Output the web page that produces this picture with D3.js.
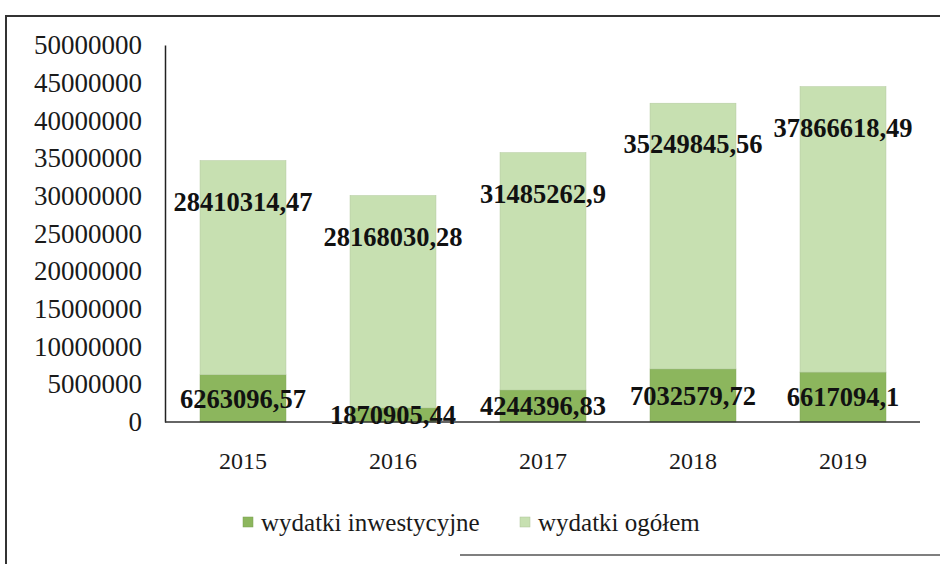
<!DOCTYPE html>
<html><head><meta charset="utf-8">
<script src="https://cdn.jsdelivr.net/npm/d3@7"></script>
<style>body{margin:0;background:#fff}svg{display:block}</style>
</head><body>
<svg id="c" width="940" height="564"></svg>
<script>
const years = ["2015","2016","2017","2018","2019"];
const inwestycyjne = [6263096.57, 1870905.44, 4244396.83, 7032579.72, 6617094.1];
const ogolem = [28410314.47, 28168030.28, 31485262.9, 35249845.56, 37866618.49];
const inwLabels = ["6263096,57","1870905,44","4244396,83","7032579,72","6617094,1"];
const ogLabels = ["28410314,47","28168030,28","31485262,9","35249845,56","37866618,49"];
const yTicks = [0,5000000,10000000,15000000,20000000,25000000,30000000,35000000,40000000,45000000,50000000];
const seriesNames = ["wydatki inwestycyjne","wydatki ogółem"];
const colors = ["#8cb65d","#c7e0b1"];

const svg = d3.select("#c");
const font = "'Liberation Serif','Times New Roman',serif";

// frame
svg.append("path").attr("d","M6,564 L6,16 L940,16").attr("fill","none").attr("stroke","#333").attr("stroke-width",2);
svg.append("path").attr("d","M460,555 L940,555").attr("fill","none").attr("stroke","#555").attr("stroke-width",1.5);

const x = d3.scaleBand().domain(years).range([168,918]).paddingInner(0.427).paddingOuter(0.2135);
const y = d3.scaleLinear().domain([0,50000000]).range([422,45]);

const data = years.map((yr,i)=>({year:yr, inw:inwestycyjne[i], og:ogolem[i], i}));
const stack = d3.stack().keys(["inw","og"])(data);

stack.forEach((layer,li)=>{
  svg.append("g").selectAll("rect").data(layer).join("rect")
    .attr("x",d=>x(d.data.year)).attr("width",x.bandwidth())
    .attr("y",d=>y(d[1])).attr("height",d=>y(d[0])-y(d[1]))
    .attr("fill",colors[li]).attr("stroke",d3.color(colors[li]).darker(0.3)).attr("stroke-width",0.5);
});

// axes
const yAxis = d3.axisLeft(y).tickValues(yTicks).tickSize(0).tickPadding(23).tickFormat(d=>String(d));
const gy = svg.append("g").attr("transform","translate(165,0)").call(yAxis);
gy.select(".domain").attr("stroke","#222").attr("stroke-width",1.5);
gy.selectAll("text").attr("font-family",font).attr("font-size",27).attr("fill","#1a1a1a");

const xAxis = d3.axisBottom(x).tickSize(0).tickPadding(30);
const gx = svg.append("g").attr("transform","translate(0,422)").call(xAxis);
gx.select(".domain").attr("d","M165,0H920").attr("stroke","#333").attr("stroke-width",1.5);
gx.selectAll("text").attr("font-family",font).attr("font-size",24).attr("fill","#1a1a1a");

// labels
const lab = svg.append("g").attr("font-family",font).attr("font-weight","bold").attr("font-size",26.5).attr("fill","#111").attr("text-anchor","middle");
stack[0].forEach((d,i)=>{
  lab.append("text").attr("x",x(years[i])+x.bandwidth()/2).attr("y",(y(d[0])+y(d[1]))/2).attr("dy","0.35em").text(inwLabels[i]);
});
stack[1].forEach((d,i)=>{
  lab.append("text").attr("x",x(years[i])+x.bandwidth()/2).attr("y",y(d[1])+41).attr("dy","0.35em").text(ogLabels[i]);
});

// legend
const leg = svg.append("g").attr("font-family",font).attr("font-size",25).attr("fill","#1a1a1a");
const legX = [243,520];
seriesNames.forEach((n,i)=>{
  leg.append("rect").attr("x",legX[i]).attr("y",517).attr("width",10).attr("height",10).attr("fill",colors[i]).attr("stroke",d3.color(colors[i]).darker(0.4)).attr("stroke-width",0.5);
  leg.append("text").attr("x",legX[i]+18).attr("y",522).attr("dy","0.35em").text(n);
});
</script>
</body></html>
